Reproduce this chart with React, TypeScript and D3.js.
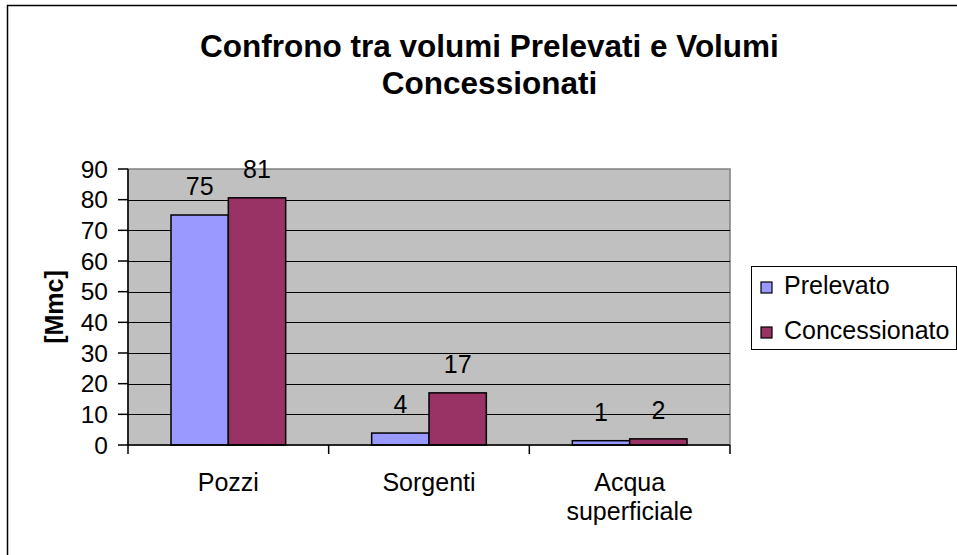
import React from "react";
import * as d3 from "d3";

const categories = ["Pozzi", "Sorgenti", "Acqua superficiale"];
const categoryLines = [["Pozzi"], ["Sorgenti"], ["Acqua", "superficiale"]];
const seriesNames = ["Prelevato", "Concessionato"];
const prelevato = [75, 3.9, 1.4];
const concessionato = [80.6, 17, 2.0];
const labelsPrelevato = ["75", "4", "1"];
const labelsConcessionato = ["81", "17", "2"];
const yTicks = [0, 10, 20, 30, 40, 50, 60, 70, 80, 90];
const colors = ["#9999FF", "#993366"];
const titleLines = ["Confrono tra volumi Prelevati e Volumi", "Concessionati"];
const yTitle = "[Mmc]";

const W = 957;
const H = 555;
const FONT = "'Liberation Sans', Arial, sans-serif";

export default function App() {
  const plot = { left: 128, right: 730, top: 169, bottom: 445 };
  const x = d3.scaleBand<string>().domain(categories).range([plot.left, plot.right]).paddingInner(0).paddingOuter(0);
  const xs = d3.scaleBand<string>().domain(seriesNames).range([0, x.bandwidth()]).paddingInner(0).paddingOuter(0.75);
  const y = d3.scaleLinear().domain([0, 90]).range([plot.bottom, plot.top]);
  const values = [prelevato, concessionato];
  const labels = [labelsPrelevato, labelsConcessionato];
  const boundaries = [...categories.map((c) => x(c) as number), plot.right];

  return (
    <div style={{ position: "absolute", left: 0, top: 0 }}>
      <svg width={W} height={H} style={{ display: "block" }} fontFamily={FONT}>
        <rect x={0} y={0} width={W} height={H} fill="#fff" />
        <rect x={7.5} y={5.5} width={1100} height={1100} fill="#fff" stroke="#000" strokeWidth={1.5} />
        {titleLines.map((t, i) => (
          <text key={i} x={489.5} y={57 + i * 37} textAnchor="middle" fontSize={31.5} fontWeight="bold" fill="#000">
            {t}
          </text>
        ))}
        {/* plot area */}
        <rect x={plot.left} y={plot.top} width={plot.right - plot.left} height={plot.bottom - plot.top} fill="#C0C0C0" stroke="#808080" strokeWidth={1.5} />
        {yTicks.filter((t) => t > 0 && t < 90).map((t) => (
          <line key={t} x1={plot.left} x2={plot.right} y1={Math.round(y(t)) + 0.5} y2={Math.round(y(t)) + 0.5} stroke="#000" strokeWidth={1} />
        ))}
        {/* bars */}
        {values.map((vals, si) =>
          vals.map((v, ci) => {
            const bx = (x(categories[ci]) as number) + (xs(seriesNames[si]) as number);
            const by = y(v);
            return (
              <rect key={`${si}-${ci}`} x={bx} y={by} width={xs.bandwidth()} height={plot.bottom - by} fill={colors[si]} stroke="#000" strokeWidth={1.5} />
            );
          })
        )}
        {/* data labels */}
        {values.map((vals, si) =>
          vals.map((v, ci) => {
            const bx = (x(categories[ci]) as number) + (xs(seriesNames[si]) as number) + xs.bandwidth() / 2;
            return (
              <text key={`l${si}-${ci}`} x={bx} y={y(v) - 20} textAnchor="middle" fontSize={25} fill="#000">
                {labels[si][ci]}
              </text>
            );
          })
        )}
        {/* y axis */}
        <line x1={plot.left} x2={plot.left} y1={plot.top} y2={plot.bottom} stroke="#000" strokeWidth={1.5} />
        {yTicks.map((t) => (
          <g key={t}>
            <line x1={plot.left - 10} x2={plot.left} y1={y(t)} y2={y(t)} stroke="#000" strokeWidth={1.5} />
            <text x={108} y={y(t)} dy="0.36em" textAnchor="end" fontSize={24.5} fill="#000">
              {t}
            </text>
          </g>
        ))}
        {/* x axis */}
        <line x1={plot.left} x2={plot.right} y1={plot.bottom} y2={plot.bottom} stroke="#000" strokeWidth={1.5} />
        {boundaries.map((b, i) => (
          <line key={i} x1={b} x2={b} y1={plot.bottom} y2={plot.bottom + 9} stroke="#000" strokeWidth={1.5} />
        ))}
        {categories.map((c, i) => (
          <text key={c} x={(x(c) as number) + x.bandwidth() / 2} y={490.5} textAnchor="middle" fontSize={25} fill="#000">
            {categoryLines[i].map((ln, j) => (
              <tspan key={j} x={(x(c) as number) + x.bandwidth() / 2} y={490.5 + j * 29.5}>
                {ln}
              </tspan>
            ))}
          </text>
        ))}
        {/* y title */}
        <text transform={`translate(63, ${(plot.top + plot.bottom) / 2}) rotate(-90)`} textAnchor="middle" fontSize={25} fontWeight="bold" fill="#000">
          {yTitle}
        </text>
        {/* legend */}
        <rect x={751.5} y={266.5} width={205} height={83} fill="#fff" stroke="#000" strokeWidth={1} />
        {seriesNames.map((s, i) => (
          <g key={s}>
            <rect x={761} y={282 + i * 45} width={11} height={11} fill={colors[i]} stroke="#000" strokeWidth={1.2} />
            <text x={784} y={294 + i * 44.5} fontSize={25} fill="#000">
              {s}
            </text>
          </g>
        ))}
      </svg>
    </div>
  );
}
